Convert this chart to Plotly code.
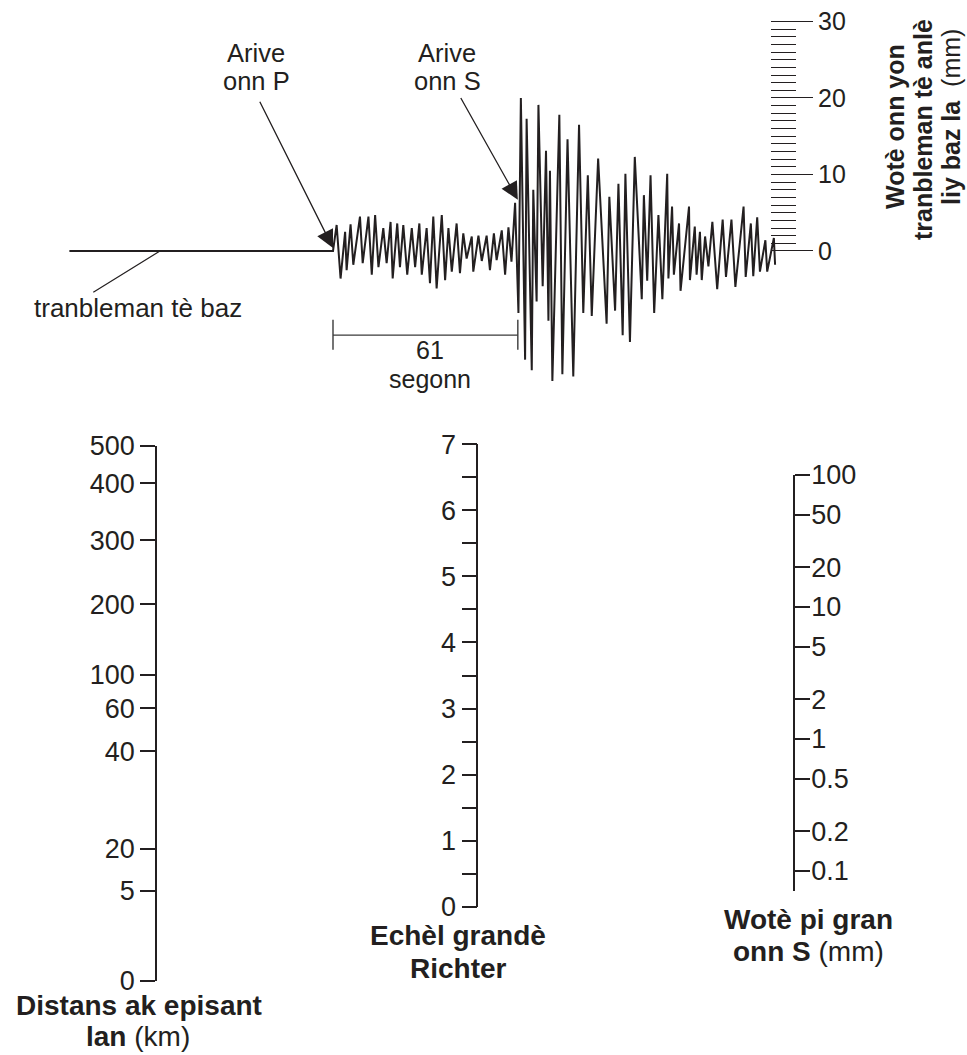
import math
import plotly.graph_objects as go

W, H = 967, 1055
INK = "#231f20"
FONT = "Liberation Sans, Arial, Helvetica, sans-serif"

# ---- seismogram: time in s after the P arrival, trace height in mm ----
baseline_t = [-87, 0]
baseline_mm = [0, 0]

p_t = [0, 1.2, 2.5, 4.0, 4.5, 5.8, 6.7, 8.9, 9.8, 11.7,
       12.8, 13.9, 15.0, 16.6, 17.7, 19.0, 19.7, 21.2, 22.1, 23.2,
       24.5, 26.0, 27.1, 28.5, 29.3, 30.9, 32.0, 33.1, 34.2, 35.9,
       37.0, 38.1, 39.2, 40.8, 41.9, 43.0, 44.1, 45.8, 46.3, 48.0,
       49.1, 50.7, 51.8, 53.1, 54.0, 55.7, 56.8, 57.9, 58.9]
p_mm = [0, 3.4, -3.6, 2.5, -2.5, 3.5, -1.8, 4.5, -1.6, 4.5,
        -3.1, 4.7, -2.1, 3.0, -1.6, 3.8, -3.6, 3.6, -2.1, 3.4,
        -3.1, 3.0, -2.1, 3.6, -3.1, 3.0, -4.2, 4.5, -4.9, 4.7,
        -3.8, 3.0, -2.7, 3.6, -2.9, 2.3, -1.0, 1.9, -2.7, 2.0,
        -1.3, 2.0, -2.5, 2.3, -1.2, 2.7, -3.1, 3.1, -1.4]

s_t = [60.1, 61.2, 62.0, 63.4, 63.9, 65.6, 66.1, 67.2, 67.8, 69.2,
       70.3, 71.1, 71.6, 72.4, 74.7, 75.7, 77.4, 79.3, 81.2, 82.6,
       84.1, 85.4, 87.5, 90.3, 91.2, 93.1, 94.2, 95.6, 96.5, 98.0,
       99.6, 101.9, 102.6, 103.7, 104.8, 106.0, 107.4, 108.7, 110.3, 110.7,
       111.9, 112.5, 114.2, 114.7, 117.5, 117.8, 119.4, 120.0, 121.1, 121.7,
       122.8, 123.9, 125.2, 126.8, 128.6, 129.7, 131.5, 132.8, 135.5, 136.2,
       137.9, 138.7, 140.0, 140.9, 142.7, 143.3, 145.5, 145.9]
s_mm = [6.3, -8.1, 20.0, -14.2, 17.3, -15.6, 8.0, -6.6, 19.1, -4.6,
        13.1, -9.1, 10.5, -17.0, 17.8, -16.1, 14.6, -16.4, 16.5, -8.1,
        9.9, -8.5, 12.1, -9.5, 7.1, -7.8, 8.8, -11.0, 10.1, -11.9,
        12.3, -6.3, 7.3, -3.9, 9.9, -8.1, 4.7, -6.3, 10.1, -3.6,
        5.8, -3.1, 3.6, -5.2, 5.8, -3.8, 3.2, -3.1, 2.5, -3.8,
        1.9, -2.0, 3.8, -5.0, 4.1, -3.4, 4.1, -4.7, 5.8, -3.4,
        3.6, -3.3, 4.4, -2.7, 1.4, -2.7, 1.7, -1.8]

sp_interval = 61  # s between P and S arrival

# recording scale beside the seismogram (mm)
scale_major = [0, 5, 10, 15, 20, 25, 30]
scale_labels = ["0", "", "10", "", "20", "", "30"]
scale_minor = list(range(0, 31))

# ---- nomogram ----
distance_labels = ["0", "5", "20", "40", "60", "100", "200", "300", "400", "500"]
distance_pos = [0, 0.169, 0.247, 0.429, 0.510, 0.572, 0.704, 0.824, 0.930, 1.0]

richter_major = [0, 1, 2, 3, 4, 5, 6, 7]
richter_minor = [0.5, 1.5, 2.5, 3.5, 4.5, 5.5, 6.5]

amp_vals = [0.1, 0.2, 0.5, 1, 2, 5, 10, 20, 50, 100]
amp_labels = ["0.1", "0.2", "0.5", "1", "2", "5", "10", "20", "50", "100"]


def fx(px):
    return px / W


def fy(py):
    return 1 - py / H


# where the seismogram sits on the page
T0_PX, PX_PER_S = 333, 3.03
Y0_PX, PX_PER_MM = 251, 7.65
t_range = [-90, 150]
mm_range = [-21, 32.5]

tick_font = dict(family=FONT, size=27, color=INK)


def scale_axis(**kw):
    ax = dict(showgrid=False, zeroline=False, showline=True, linecolor=INK,
              linewidth=1.5, ticks="outside", ticklen=15, tickwidth=1.5,
              tickcolor=INK, tickfont=tick_font, tickmode="array",
              anchor="free", fixedrange=True)
    ax.update(kw)
    return ax


fig = go.Figure()

# seismogram trace
fig.add_trace(go.Scatter(
    x=baseline_t + p_t + s_t, y=baseline_mm + p_mm + s_mm,
    mode="lines", line=dict(color=INK, width=2), hoverinfo="skip",
))

# S-P interval bar
bar_y, bar_top, bar_bot = -11.0, -9.0, -12.9
fig.add_trace(go.Scatter(
    x=[0, sp_interval, None, 0, 0, None, sp_interval, sp_interval],
    y=[bar_y, bar_y, None, bar_top, bar_bot, None, bar_top, bar_bot],
    mode="lines", line=dict(color="#3a3a3a", width=1.4), hoverinfo="skip",
))

# invisible anchors so the three nomogram scales get drawn
fig.add_trace(go.Scatter(x=[0.5, 0.5], y=[0, 1], xaxis="x2", yaxis="y2",
                         mode="markers", marker=dict(opacity=0), hoverinfo="skip"))
fig.add_trace(go.Scatter(x=[0.5, 0.5], y=[0, 7], xaxis="x3", yaxis="y3",
                         mode="markers", marker=dict(opacity=0), hoverinfo="skip"))
fig.add_trace(go.Scatter(x=[0.5, 0.5], y=[0.1, 100], xaxis="x4", yaxis="y4",
                         mode="markers", marker=dict(opacity=0), hoverinfo="skip"))

hidden_x = dict(visible=False, range=[0, 1], fixedrange=True)

fig.update_layout(
    width=W, height=H,
    margin=dict(l=0, r=0, t=0, b=0),
    template="none",
    paper_bgcolor="white", plot_bgcolor="rgba(0,0,0,0)",
    showlegend=False, hovermode=False,
    font=dict(family=FONT, size=26, color=INK),
    xaxis=dict(visible=False, range=t_range, fixedrange=True,
               domain=[fx(T0_PX + t_range[0] * PX_PER_S), fx(T0_PX + t_range[1] * PX_PER_S)]),
    yaxis=dict(range=mm_range, anchor="free", position=fx(770), side="right",
               domain=[fy(Y0_PX - mm_range[0] * PX_PER_MM), fy(Y0_PX - mm_range[1] * PX_PER_MM)],
               showgrid=False, zeroline=False, showline=False, fixedrange=True,
               tickmode="array", tickvals=scale_major, ticktext=scale_labels,
               ticks="outside", ticklen=42, tickwidth=1.3, tickcolor=INK,
               tickfont=dict(family=FONT, size=25, color=INK),
               minor=dict(tickmode="array", tickvals=scale_minor, ticks="outside",
                          ticklen=25, tickwidth=1.1, tickcolor=INK)),
    xaxis2=dict(hidden_x, domain=[0.0, 0.1], anchor="y2"),
    yaxis2=scale_axis(domain=[fy(981), fy(446)], range=[0, 1], position=fx(156),
                      side="left", tickvals=distance_pos, ticktext=distance_labels),
    xaxis3=dict(hidden_x, domain=[0.4, 0.5], anchor="y3"),
    yaxis3=scale_axis(domain=[fy(906.7), fy(444.3)], range=[0, 7], position=fx(477.3),
                      side="left", tickvals=richter_major,
                      ticktext=[str(v) for v in richter_major],
                      minor=dict(tickmode="array", tickvals=richter_minor, ticks="outside",
                                 ticklen=15, tickwidth=1.5, tickcolor=INK)),
    xaxis4=dict(hidden_x, domain=[0.8, 0.9], anchor="y4"),
    yaxis4=scale_axis(type="log", domain=[fy(891), fy(475)],
                      range=[math.log10(0.1) - 20 / 132, 2], position=fx(794),
                      side="right", tickvals=amp_vals, ticktext=amp_labels,
                      ticklabelstandoff=-4),
)


def label(text, x, y, size=25, angle=0):
    fig.add_annotation(text=text, x=fx(x), y=fy(y), xref="paper", yref="paper",
                       showarrow=False, xanchor="center", yanchor="middle",
                       textangle=angle, font=dict(family=FONT, size=size, color=INK))


# arrows onto the P and S arrivals
for tip_t, tip_mm, tail_t, tail_mm in [(0, 0.4, -24.4, 19.7), (sp_interval, 6.7, 41.9, 20.2)]:
    fig.add_annotation(x=tip_t, y=tip_mm, ax=tail_t, ay=tail_mm, xref="x", yref="y",
                       axref="x", ayref="y", text="", showarrow=True, arrowhead=2,
                       arrowsize=2.7, arrowwidth=1.3, arrowcolor=INK, standoff=0)

# pointer to the background noise line
fig.add_annotation(x=-57.1, y=0, ax=-79.6, ay=-5.5, xref="x", yref="y",
                   axref="x", ayref="y", text="", showarrow=True, arrowhead=0,
                   arrowwidth=1.2, arrowcolor=INK)

label("Arive", 256, 52.5, size=25.5)
label("onn P", 256, 81.5, size=25.5)
label("Arive", 447, 52.5, size=25.5)
label("onn S", 447, 81.5, size=25.5)
label("tranbleman tè baz", 138, 308, size=26)
label("61", 430, 350)
label("segonn", 430, 378.5)

# rotated title of the recording scale
label("<b>Wotè onn yon</b>", 895, 127, angle=-90)
label("<b>tranbleman tè anlè</b>", 923, 130, angle=-90)
label("<b>liy baz la</b>  (mm)", 951, 117, angle=-90)

# nomogram titles
label("<b>Distans ak episant</b>", 139, 1005, size=28)
label("<b>lan</b> (km)", 138, 1036, size=28)
label("<b>Echèl grandè</b>", 458, 936, size=28)
label("<b>Richter</b>", 458, 968, size=28)
label("<b>Wotè pi gran</b>", 808, 919, size=28)
label("<b>onn S</b> (mm)", 808, 951, size=28)

# the page body has an 8px default margin; drop it so the figure fills the window
fig.write_html("out.html", config={"displayModeBar": False},
               post_script="document.body.style.margin='0';")
